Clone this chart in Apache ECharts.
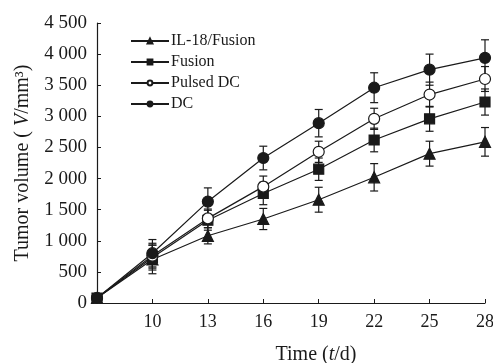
<!DOCTYPE html>
<html>
<head>
<meta charset="utf-8">
<script src="https://cdn.jsdelivr.net/npm/echarts@6/dist/echarts.min.js"></script>
<style>
html,body{margin:0;padding:0;background:#fff;}
#main{width:493px;height:363px;}
</style>
</head>
<body>
<div id="main"></div>
<script>
var days = [7, 10, 13, 16, 19, 22, 25, 28];
var xTicks = [10, 13, 16, 19, 22, 25, 28];
var yTicks = [0, 500, 1000, 1500, 2000, 2500, 3000, 3500, 4000, 4500];
var seriesNames = ['IL-18/Fusion', 'Fusion', 'Pulsed DC', 'DC'];
var il18 = [80, 700, 1080, 1350, 1660, 2020, 2400, 2590];
var fusion = [80, 730, 1330, 1760, 2150, 2620, 2960, 3230];
var pulsed = [80, 760, 1360, 1870, 2430, 2960, 3350, 3600];
var dc = [80, 800, 1630, 2330, 2890, 3460, 3750, 3940];
var il18Err = [30, 230, 130, 170, 200, 220, 200, 230];
var fusionErr = [30, 200, 160, 180, 180, 190, 200, 210];
var pulsedErr = [30, 200, 150, 170, 170, 170, 200, 200];
var dcErr = [30, 220, 220, 190, 220, 240, 250, 290];

var FONT = 'Liberation Serif';
var INK = '#1a1a1a';
var values = [il18, fusion, pulsed, dc];
var errs = [il18Err, fusionErr, pulsedErr, dcErr];
var symbols = ['triangle', 'rect', 'circle', 'circle'];
var sizes = [11, 10, 11, 11];
var fills = [INK, INK, '#ffffff', INK];

function fmt(v) {
  var s = String(v);
  if (s.length > 3) s = s.slice(0, s.length - 3) + ' ' + s.slice(s.length - 3);
  return s;
}

var series = [];
values.forEach(function (vals, k) {
  var errData = days.map(function (d, i) { return [d, vals[i], errs[k][i]]; });
  series.push({
    type: 'custom',
    z: 1,
    silent: true,
    data: errData,
    renderItem: function (params, api) {
      var x = api.value(0), y = api.value(1), e = api.value(2);
      var top = api.coord([x, y + e]);
      var bot = api.coord([x, y - e]);
      var hw = 4;
      var st = { stroke: INK, lineWidth: 1.2 };
      return {
        type: 'group',
        children: [
          { type: 'line', shape: { x1: top[0], y1: top[1], x2: bot[0], y2: bot[1] }, style: st },
          { type: 'line', shape: { x1: top[0] - hw, y1: top[1], x2: top[0] + hw, y2: top[1] }, style: st },
          { type: 'line', shape: { x1: bot[0] - hw, y1: bot[1], x2: bot[0] + hw, y2: bot[1] }, style: st }
        ]
      };
    }
  });
  series.push({
    name: seriesNames[k],
    type: 'line',
    z: 3,
    data: days.map(function (d, i) { return [d, vals[i]]; }),
    symbol: symbols[k],
    symbolSize: sizes[k],
    showAllSymbol: true,
    color: INK,
    lineStyle: { color: INK, width: 1.2 },
    itemStyle: { color: fills[k], borderColor: INK, borderWidth: 1.2 }
  });
});

var chart = echarts.init(document.getElementById('main'));
chart.setOption({
  animation: false,
  backgroundColor: '#fff',
  textStyle: { fontFamily: FONT, color: INK },
  grid: { left: 97, right: 8, top: 23, bottom: 60, containLabel: false, outerBoundsMode: 'none' },
  legend: {
    orient: 'vertical',
    left: 125,
    top: 28,
    itemWidth: 38,
    itemHeight: 6,
    itemGap: 5,
    data: seriesNames,
    textStyle: { fontFamily: FONT, fontSize: 16, color: INK, padding: [0, 0, 0, -3] }
  },
  xAxis: {
    type: 'value',
    min: 7,
    max: 28,
    interval: 3,
    name: 'Time ({i|t}/d)',
    nameLocation: 'middle',
    nameGap: 42,
    nameTextStyle: {
      fontFamily: FONT, fontSize: 20, color: INK, padding: [0, 0, 0, 50],
      rich: { i: { fontFamily: FONT, fontSize: 20, fontStyle: 'italic', color: INK } }
    },
    axisLine: { lineStyle: { color: INK, width: 1.2 } },
    axisTick: { inside: true, length: 4, lineStyle: { color: INK } },
    splitLine: { show: false },
    axisLabel: {
      fontFamily: FONT, fontSize: 18, color: INK, margin: 10,
      formatter: function (v) { return xTicks.indexOf(v) >= 0 ? String(v) : ''; }
    }
  },
  yAxis: {
    type: 'value',
    min: 0,
    max: 4500,
    interval: 500,
    name: 'Tumor volume ( {i|V}/mm³)',
    nameLocation: 'middle',
    nameGap: 64,
    nameTextStyle: {
      fontFamily: FONT, fontSize: 20, color: INK,
      rich: { i: { fontFamily: FONT, fontSize: 20, fontStyle: 'italic', color: INK } }
    },
    axisLine: { show: true, lineStyle: { color: INK, width: 1.2 } },
    axisTick: { show: true, inside: true, length: 4, lineStyle: { color: INK } },
    splitLine: { show: false },
    axisLabel: {
      fontFamily: FONT, fontSize: 19, color: INK, margin: 10,
      formatter: function (v) { return yTicks.indexOf(v) >= 0 ? fmt(v) : ''; }
    }
  },
  series: series
});
</script>
</body>
</html>
